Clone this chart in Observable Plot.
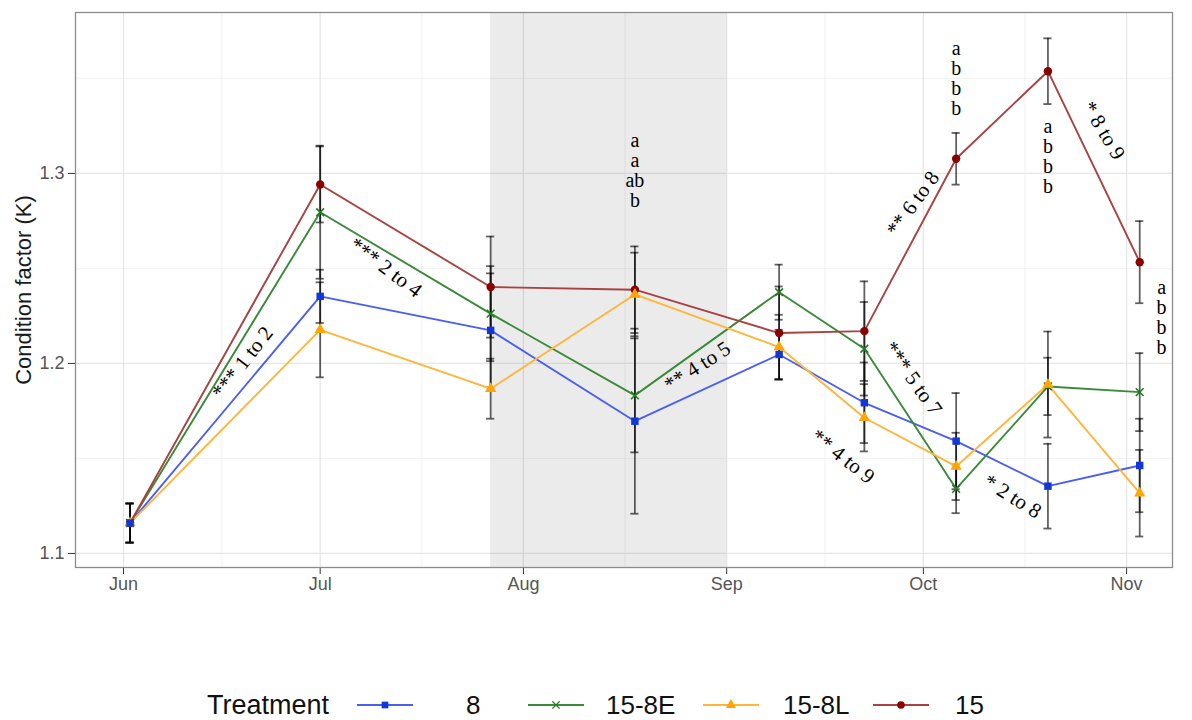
<!DOCTYPE html>
<html>
<head>
<meta charset="utf-8">
<script src="https://cdn.jsdelivr.net/npm/d3@7"></script>
<script src="https://cdn.jsdelivr.net/npm/@observablehq/plot@0.6"></script>
<style>
  body { margin: 0; background: #fff; font-family: "Liberation Sans", Arial, sans-serif; }
  #chart { width: 1192px; height: 620px; }
  #legend { position: relative; width: 1192px; height: 100px; }
  #legend .item { position: absolute; white-space: nowrap; color: #111; }
</style>
</head>
<body>
<div id="chart"></div>
<div id="legend"></div>
<script>
// Treatments, in legend order
const treatments = ["8", "15-8E", "15-8L", "15"];

// Sampling dates
const sampleDates = ["2019-06-02", "2019-07-01", "2019-07-27", "2019-08-18", "2019-09-09",
                     "2019-09-22", "2019-10-06", "2019-10-20", "2019-11-03"];

// Mean condition factor (K) per sampling date
const k8     = [1.1160, 1.2353, 1.2174, 1.1696, 1.2047, 1.1793, 1.1591, 1.1354, 1.1463];
const k15_8E = [1.1160, 1.2796, 1.2262, 1.1832, 1.2375, 1.2077, 1.1340, 1.1879, 1.1849];
const k15_8L = [1.1160, 1.2177, 1.1867, 1.2363, 1.2086, 1.1714, 1.1458, 1.1889, 1.1317];
const k15    = [1.1160, 1.2942, 1.2402, 1.2388, 1.2160, 1.2170, 1.3077, 1.3538, 1.2533];

// Standard errors
const se8     = [0.0103, 0.0140, 0.0300, 0.0487, 0.0130, 0.0212, 0.0253, 0.0223, 0.0246];
const se15_8E = [0.0103, 0.0350, 0.0250, 0.0300, 0.0145, 0.0246, 0.0128, 0.0151, 0.0205];
const se15_8L = [0.0103, 0.0250, 0.0158, 0.0220, 0.0170, 0.0177, 0.0177, 0.0279, 0.0228];
const se15    = [0.0103, 0.0200, 0.0266, 0.0228, 0.0245, 0.0262, 0.0136, 0.0173, 0.0216];

// Axis breaks and labels
const monthBreaks = ["2019-06-01", "2019-07-01", "2019-08-01", "2019-09-01", "2019-10-01", "2019-11-01"];
const monthLabels = ["Jun", "Jul", "Aug", "Sep", "Oct", "Nov"];
const kBreaks = [1.1, 1.2, 1.3];
const kMinorBreaks = [1.15, 1.25, 1.35];

// Temperature-shift period (shaded)
const shadeStart = "2019-07-27";
const shadeEnd = "2019-09-01";

// Pairwise significance between sampling points
const pairLabels = ["*** 1 to 2", "*** 2 to 4", "** 4 to 5", "** 4 to 9", "*** 5 to 7", "* 2 to 8", "** 6 to 8", "* 8 to 9"];
const pairDates  = ["2019-06-19T04:00Z", "2019-07-11T00:00Z", "2019-08-27T13:00Z", "2019-09-18T17:00Z",
                    "2019-09-29T10:00Z", "2019-10-14T14:00Z", "2019-09-29T10:00Z", "2019-10-28T12:00Z"];
const pairK      = [1.2005, 1.2505, 1.1984, 1.1510, 1.1921, 1.1300, 1.2842, 1.3226];
const pairAngle  = [-52, 37, -33, 38, 55, 32, -54, 59];

// Compact letter displays between treatments
const groupLetters = ["a\na\nab\nb", "a\nb\nb\nb", "a\nb\nb\nb", "a\nb\nb\nb"];
const letterDates  = ["2019-08-18T00:00Z", "2019-10-06T00:00Z", "2019-10-20T00:00Z", "2019-11-06T08:00Z"];
const letterK      = [1.3013, 1.3501, 1.3089, 1.2241];

// Styling per treatment
const lineColors  = ["#4a5ef0", "#3a8a3a", "#ffb53a", "#a84242"];
const pointColors = ["#1237d8", "#217a21", "#ffa500", "#8b0000"];
const symbolNames = ["square", "times", "triangle", "circle"];

const DAY = 864e5;
const seriesK = [k8, k15_8E, k15_8L, k15];
const seriesSE = [se8, se15_8E, se15_8L, se15];

const rows = treatments.flatMap((t, s) => sampleDates.map((d, i) => ({
  treatment: t, date: new Date(d), k: seriesK[s][i], se: seriesSE[s][i]
})));

const pairs = pairLabels.map((text, i) => ({text, date: new Date(pairDates[i]), k: pairK[i], angle: pairAngle[i]}));
const letters = groupLetters.map((text, i) => ({text, date: new Date(letterDates[i]), k: letterK[i]}));

const months = monthBreaks.map(d => new Date(d));
const minorMonths = d3.pairs(months, (a, b) => new Date((+a + +b) / 2));
const capHalf = 0.62 * DAY;

const dots = [3, 1, 2, 0].map(s => {
  const stroked = symbolNames[s] === "times";
  return Plot.dot(rows.filter(r => r.treatment === treatments[s]), {
    x: "date", y: "k", symbol: symbolNames[s], r: stroked ? 3.6 : 4.2,
    fill: stroked ? "none" : pointColors[s],
    stroke: stroked ? pointColors[s] : "none",
    strokeWidth: 1.6
  });
});

const serif = "Liberation Serif, Times New Roman, serif";

const chart = Plot.plot({
  width: 1192,
  height: 620,
  marginLeft: 75,
  marginRight: 20,
  marginTop: 12,
  marginBottom: 53,
  style: {fontFamily: "Liberation Sans, Arial, sans-serif", fontSize: "18px", background: "#fff", overflow: "visible"},
  x: {type: "utc", domain: [new Date("2019-05-24T16:19Z"), new Date("2019-11-08T00:00Z")]},
  y: {domain: [1.0926, 1.3847]},
  color: {domain: treatments, range: lineColors},
  marks: [
    // grid
    Plot.ruleX(minorMonths, {stroke: "#ededed", strokeWidth: 0.7}),
    Plot.ruleY(kMinorBreaks, {stroke: "#ededed", strokeWidth: 0.7}),
    Plot.ruleX(months, {stroke: "#e6e6e6", strokeWidth: 1.3}),
    Plot.ruleY(kBreaks, {stroke: "#e6e6e6", strokeWidth: 1.3}),
    // shaded period
    Plot.rect([{x1: new Date(shadeStart), x2: new Date(shadeEnd)}], {x1: "x1", x2: "x2", fill: "#000", fillOpacity: 0.08}),
    // error bars
    Plot.ruleX(rows, {x: "date", y1: d => d.k - d.se, y2: d => d.k + d.se, stroke: "#000", strokeOpacity: 0.62, strokeWidth: 1.8}),
    Plot.ruleY(rows, {y: d => d.k + d.se, x1: d => new Date(+d.date - capHalf), x2: d => new Date(+d.date + capHalf), stroke: "#000", strokeOpacity: 0.62, strokeWidth: 1.8}),
    Plot.ruleY(rows, {y: d => d.k - d.se, x1: d => new Date(+d.date - capHalf), x2: d => new Date(+d.date + capHalf), stroke: "#000", strokeOpacity: 0.62, strokeWidth: 1.8}),
    // treatment lines
    Plot.line(rows, {x: "date", y: "k", z: "treatment", stroke: "treatment", strokeWidth: 1.9}),
    ...dots,
    // significance annotations
    Plot.text(pairs, {x: "date", y: "k", text: "text", rotate: "angle", fontSize: 21,
      fontFamily: serif, fill: "#000", textAnchor: "middle", lineAnchor: "middle"}),
    Plot.text(letters, {x: "date", y: "k", text: "text", fontSize: 20, lineHeight: 1,
      fontFamily: serif, fill: "#000", textAnchor: "middle", lineAnchor: "middle"}),
    // axes
    Plot.axisX(months, {tickFormat: (d, i) => monthLabels[i], tickSize: 7, tickPadding: 3, stroke: "#333", fill: "#555", label: null, fontSize: 18}),
    Plot.axisY(kBreaks, {tickFormat: d3.format(".1f"), tickSize: 7, tickPadding: 4, stroke: "#333", fill: "#555", label: null, fontSize: 18}),
    Plot.text(["Condition factor (K)"], {frameAnchor: "left", text: d => d, rotate: -90, dx: -52, fontSize: 22,
      fill: "#1a1a1a", textAnchor: "middle", lineAnchor: "middle"}),
    Plot.frame({stroke: "#8c8c8c", strokeWidth: 1.3})
  ]
});
document.getElementById("chart").appendChild(chart);

// Legend: line + marker keys below the chart
const legend = d3.select("#legend");
const centerY = 85;
legend.append("div").attr("class", "item")
  .style("left", "207px").style("top", (centerY - 16) + "px")
  .style("font-size", "27px").style("line-height", "32px").text("Treatment");
const keyLeft = [357, 528, 703, 873];
const labelLeft = [466, 606, 783, 955];
const d3Symbols = {square: d3.symbolSquare, times: d3.symbolTimes, triangle: d3.symbolTriangle, circle: d3.symbolCircle};
treatments.forEach((t, s) => {
  const svg = legend.append("svg").attr("class", "item")
    .attr("width", 56).attr("height", 20)
    .style("left", keyLeft[s] + "px").style("top", (centerY - 10) + "px");
  svg.append("line").attr("x1", 0).attr("x2", 56).attr("y1", 10).attr("y2", 10)
    .attr("stroke", lineColors[s]).attr("stroke-width", 1.9);
  const stroked = symbolNames[s] === "times";
  svg.append("path").attr("transform", "translate(28,10)")
    .attr("d", d3.symbol(d3Symbols[symbolNames[s]], stroked ? 36 : 45)())
    .attr("fill", stroked ? "none" : pointColors[s])
    .attr("stroke", stroked ? pointColors[s] : "none").attr("stroke-width", 1.4);
  legend.append("div").attr("class", "item")
    .style("left", labelLeft[s] + "px").style("top", (centerY - 16) + "px")
    .style("font-size", "26px").style("line-height", "32px").text(t);
});
</script>
</body>
</html>
